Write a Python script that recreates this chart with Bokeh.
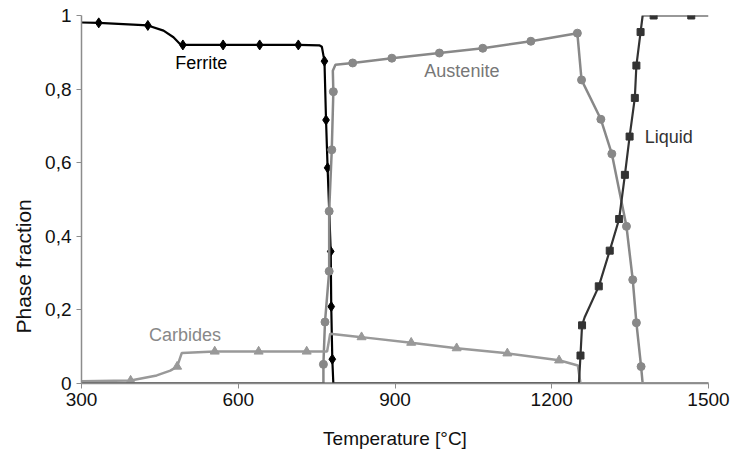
from bokeh.plotting import figure
from bokeh.models import FixedTicker, Label, Range1d, Title
from bokeh.embed import file_html
from bokeh.resources import INLINE

# ---- data ----
ferrite_T = [300, 333, 427, 457, 476, 488, 494, 571, 641, 715, 755, 760, 765, 768, 771, 777, 778, 780, 782, 790, 1500]
ferrite_f = [0.981, 0.980, 0.973, 0.959, 0.941, 0.923, 0.920, 0.920, 0.920, 0.920, 0.919, 0.915, 0.876, 0.716, 0.586, 0.359, 0.209, 0.066, 0.0, 0.0, 0.0]
ferrite_mT = [333, 427, 494, 571, 641, 715, 765, 768, 771, 777, 778, 780]
ferrite_mf = [0.980, 0.973, 0.920, 0.920, 0.920, 0.920, 0.876, 0.716, 0.586, 0.359, 0.209, 0.066]

austenite_T = [300, 763, 763, 766, 774, 774, 779, 782, 781, 786, 819, 894, 985, 1068, 1160, 1249, 1257, 1294, 1315, 1343, 1355, 1362, 1371, 1374, 1500]
austenite_f = [0.0, 0.0, 0.052, 0.167, 0.305, 0.468, 0.635, 0.793, 0.850, 0.866, 0.871, 0.884, 0.898, 0.911, 0.930, 0.952, 0.825, 0.718, 0.624, 0.427, 0.282, 0.165, 0.046, 0.0, 0.0]
austenite_mT = [763, 766, 774, 774, 779, 782, 819, 894, 985, 1068, 1160, 1249, 1257, 1294, 1315, 1343, 1355, 1362, 1371]
austenite_mf = [0.052, 0.167, 0.305, 0.468, 0.635, 0.793, 0.871, 0.884, 0.898, 0.911, 0.930, 0.952, 0.825, 0.718, 0.624, 0.427, 0.282, 0.165, 0.046]

carbides_T = [300, 394, 444, 470, 483, 492, 555, 639, 731, 770, 776, 836, 931, 1018, 1115, 1214, 1250, 1255, 1500]
carbides_f = [0.006, 0.008, 0.022, 0.035, 0.046, 0.083, 0.087, 0.087, 0.087, 0.087, 0.135, 0.126, 0.111, 0.096, 0.082, 0.063, 0.049, 0.0, 0.0]
carbides_mT = [394, 483, 555, 639, 731, 836, 931, 1018, 1115, 1214]
carbides_mf = [0.008, 0.046, 0.087, 0.087, 0.087, 0.126, 0.111, 0.096, 0.082, 0.063]

liquid_T = [300, 1252, 1255, 1258, 1263, 1290, 1311, 1329, 1340, 1349, 1359, 1362, 1370, 1374, 1395, 1467, 1500]
liquid_f = [0.0, 0.0, 0.076, 0.158, 0.180, 0.264, 0.361, 0.447, 0.567, 0.671, 0.776, 0.864, 0.955, 1.0, 1.0, 1.0, 1.0]
liquid_mT = [1255, 1258, 1290, 1311, 1329, 1340, 1349, 1359, 1362, 1370, 1395, 1467]
liquid_mf = [0.076, 0.158, 0.264, 0.361, 0.447, 0.567, 0.671, 0.776, 0.864, 0.955, 1.0, 1.0]

x_ticks = [300, 600, 900, 1200, 1500]
y_ticks = [0, 0.2, 0.4, 0.6, 0.8, 1.0]
y_tick_labels = ["0", "0,2", "0,4", "0,6", "0,8", "1"]

phase_labels = ["Ferrite", "Austenite", "Carbides", "Liquid"]
phase_label_T = [529, 1028, 498, 1424]
phase_label_f = [0.870, 0.848, 0.133, 0.671]

# ---- styles ----
C_FER = "#000000"
C_AUS = "#888888"
C_CAR = "#999999"
C_LIQ = "#333333"
FONT = "Liberation Sans"

p = figure(width=730, height=452, output_backend="svg", toolbar_location=None,
           x_range=Range1d(300, 1500), y_range=Range1d(0, 1),
           min_border_left=81, min_border_right=22, min_border_top=15, min_border_bottom=69)
p.outline_line_color = None
p.xgrid.visible = False
p.ygrid.visible = False
p.background_fill_color = "white"

p.line(ferrite_T, ferrite_f, line_color=C_FER, line_width=2.2)
p.scatter(ferrite_mT, ferrite_mf, marker="diamond", size=10, fill_color=C_FER, line_color=C_FER)

p.line(austenite_T, austenite_f, line_color=C_AUS, line_width=2.5)
p.scatter(austenite_mT, austenite_mf, marker="circle", size=8, fill_color=C_AUS, line_color=C_AUS)

p.line(carbides_T, carbides_f, line_color=C_CAR, line_width=2.5)
p.scatter(carbides_mT, carbides_mf, marker="triangle", size=9, fill_color=C_CAR, line_color=C_CAR)

p.line(liquid_T, liquid_f, line_color=C_LIQ, line_width=2.2)
p.scatter(liquid_mT, liquid_mf, marker="square", size=7, fill_color=C_LIQ, line_color=C_LIQ)

label_colors = ["#000000", "#777777", "#888888", "#333333"]
for txt, tx, ty, col in zip(phase_labels, phase_label_T, phase_label_f, label_colors):
    p.add_layout(Label(x=tx, y=ty, text=txt, text_align="center", text_baseline="middle",
                       text_font=FONT, text_font_size="18px", text_color=col))

for ax in (p.xaxis[0], p.yaxis[0]):
    ax.axis_line_color = "#8c8c8c"
    ax.axis_line_width = 1.5
    ax.major_tick_line_color = "#8c8c8c"
    ax.major_tick_in = 0
    ax.major_tick_out = 5
    ax.minor_tick_line_color = None
    ax.major_label_text_font = FONT
    ax.major_label_text_font_size = "19px"
    ax.major_label_text_color = "#111111"
    ax.axis_label_text_font = FONT
    ax.axis_label_text_font_size = "19px"
    ax.axis_label_text_font_style = "normal"
    ax.axis_label_text_color = "#111111"

p.xaxis.ticker = FixedTicker(ticks=x_ticks)
p.yaxis.ticker = FixedTicker(ticks=y_ticks)
p.yaxis.major_label_overrides = dict(zip(y_ticks, y_tick_labels))
p.xaxis.major_label_standoff = 4
p.yaxis.major_label_standoff = 5
p.xaxis.axis_label = "Temperature [°C]"
p.xaxis.axis_label_standoff = 19

p.add_layout(Title(text="Phase fraction", align="left", offset=50, standoff=15,
                   text_font=FONT, text_font_size="21px", text_font_style="normal",
                   text_color="#111111"), "left")

open("out.html", "w").write(file_html(p, INLINE))
